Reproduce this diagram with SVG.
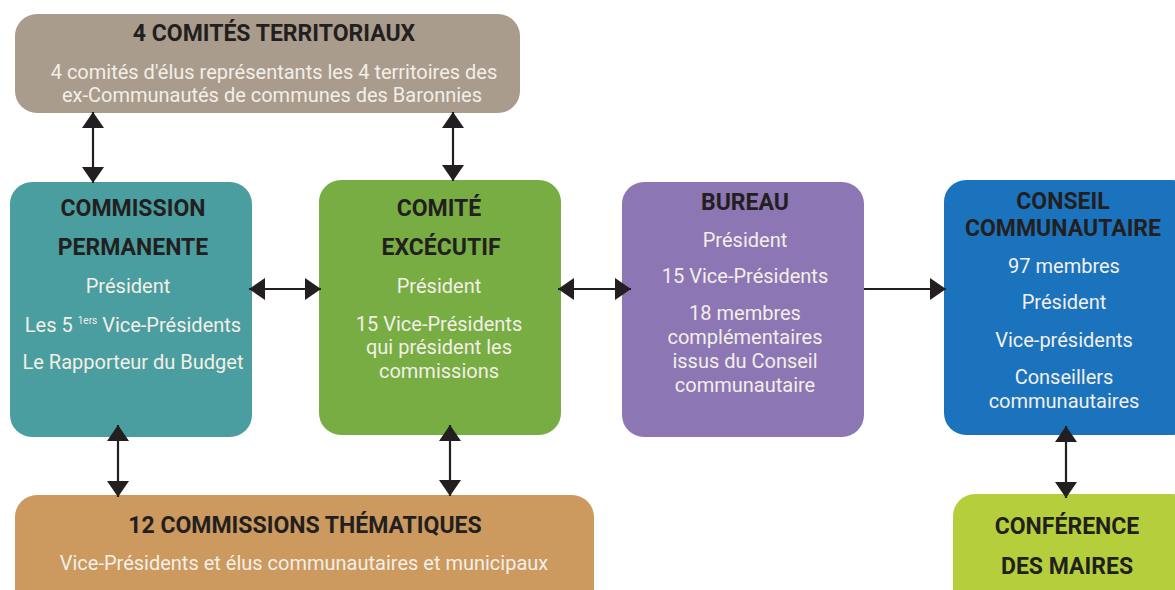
<svg xmlns="http://www.w3.org/2000/svg" width="1175" height="590" viewBox="0 0 1175 590">
<defs>
<style>
.t{font-family:Roboto,"Liberation Sans",sans-serif;font-weight:bold;font-size:23px;fill:#231f20;text-anchor:middle}
.s{font-family:Roboto,"Liberation Sans",sans-serif;font-size:20px;fill:#f3efe7;text-anchor:middle}
.c{stroke:#231f20;stroke-width:2.2;fill:none}
</style>
<marker id="ah" viewBox="0 0 16 22" markerWidth="16" markerHeight="22" refX="16" refY="11" markerUnits="userSpaceOnUse" orient="auto-start-reverse">
<path d="M0,0 L16,11 L0,22 z" fill="#231f20"/>
</marker>
</defs>
<rect width="1175" height="590" fill="#ffffff"/>

<g id="comites-territoriaux">
<rect x="15" y="14" width="505" height="99" rx="22" fill="#a99c8d"/>
<text class="t" x="274" y="41">4 COMITÉS TERRITORIAUX</text>
<text class="s" x="274" y="79">4 comités d'élus représentants les 4 territoires des</text>
<text class="s" x="272" y="102">ex-Communautés de communes des Baronnies</text>
</g>

<g id="commission-permanente">
<rect x="10" y="182" width="242" height="255" rx="22" fill="#4b9e9f"/>
<text class="t" x="133" y="216">COMMISSION</text>
<text class="t" x="133" y="255">PERMANENTE</text>
<text class="s" x="128" y="293">Président</text>
<text class="s" x="133" y="332">Les 5 <tspan font-size="10" dy="-8">1ers</tspan><tspan dy="8"> Vice-Présidents</tspan></text>
<text class="s" x="133" y="369">Le Rapporteur du Budget</text>
</g>

<g id="comite-executif">
<rect x="319" y="180" width="242" height="255" rx="22" fill="#77ad43"/>
<text class="t" x="439" y="216">COMITÉ</text>
<text class="t" x="441" y="255">EXCÉCUTIF</text>
<text class="s" x="439" y="293">Président</text>
<text class="s" x="439" y="331">15 Vice-Présidents</text>
<text class="s" x="439" y="354">qui président les</text>
<text class="s" x="439" y="378">commissions</text>
</g>

<g id="bureau">
<rect x="622" y="182" width="242" height="255" rx="22" fill="#8c76b4"/>
<text class="t" x="745" y="210">BUREAU</text>
<text class="s" x="745" y="247">Président</text>
<text class="s" x="745" y="283">15 Vice-Présidents</text>
<text class="s" x="745" y="320">18 membres</text>
<text class="s" x="745" y="344">complémentaires</text>
<text class="s" x="745" y="368">issus du Conseil</text>
<text class="s" x="745" y="392">communautaire</text>
</g>

<g id="conseil-communautaire">
<rect x="944" y="180" width="250" height="255" rx="22" fill="#1b73be"/>
<text class="t" x="1063" y="209">CONSEIL</text>
<text class="t" x="1063" y="236">COMMUNAUTAIRE</text>
<text class="s" x="1064" y="273">97 membres</text>
<text class="s" x="1064" y="309">Président</text>
<text class="s" x="1064" y="347">Vice-présidents</text>
<text class="s" x="1064" y="384">Conseillers</text>
<text class="s" x="1064" y="408">communautaires</text>
</g>

<g id="commissions-thematiques">
<rect x="15" y="495" width="579" height="120" rx="22" fill="#cc995f"/>
<text class="t" x="305" y="533">12 COMMISSIONS THÉMATIQUES</text>
<text class="s" x="304" y="570">Vice-Présidents et élus communautaires et municipaux</text>
</g>

<g id="conference-des-maires">
<rect x="953" y="494" width="240" height="120" rx="22" fill="#b4cf3b"/>
<text class="t" x="1067" y="534">CONFÉRENCE</text>
<text class="t" x="1067" y="574">DES MAIRES</text>
</g>

<g id="connectors">
<line class="c" x1="93" y1="112" x2="93" y2="183" marker-start="url(#ah)" marker-end="url(#ah)"/>
<line class="c" x1="453" y1="112" x2="453" y2="181" marker-start="url(#ah)" marker-end="url(#ah)"/>
<line class="c" x1="249" y1="289" x2="321" y2="289" marker-start="url(#ah)" marker-end="url(#ah)"/>
<line class="c" x1="558" y1="289" x2="631" y2="289" marker-start="url(#ah)" marker-end="url(#ah)"/>
<line class="c" x1="864" y1="289" x2="946" y2="289" marker-end="url(#ah)"/>
<line class="c" x1="118" y1="425" x2="118" y2="497" marker-start="url(#ah)" marker-end="url(#ah)"/>
<line class="c" x1="450" y1="425" x2="450" y2="496" marker-start="url(#ah)" marker-end="url(#ah)"/>
<line class="c" x1="1066" y1="426" x2="1066" y2="498" marker-start="url(#ah)" marker-end="url(#ah)"/>
</g>
</svg>
